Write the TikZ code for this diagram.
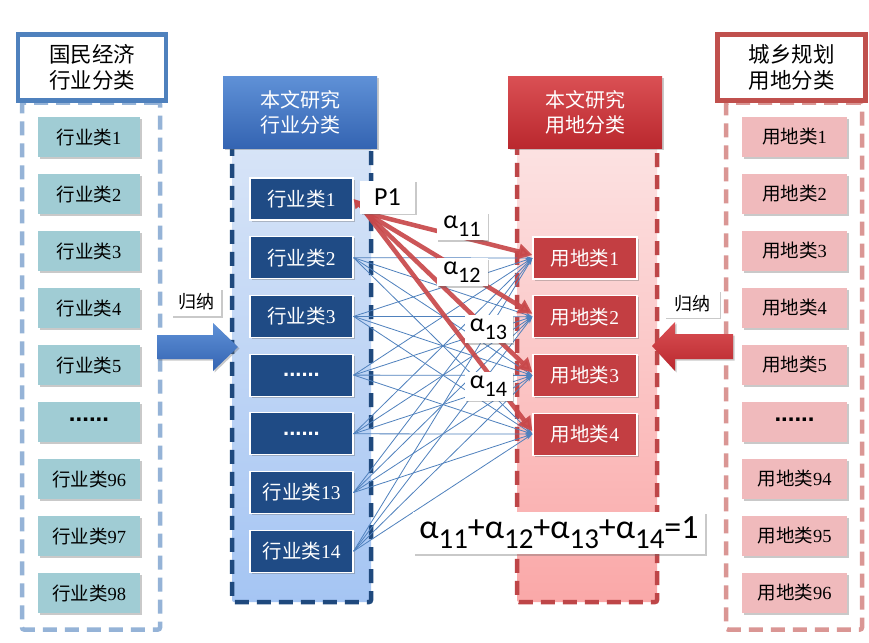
\documentclass[tikz,border=0pt]{standalone}
\usepackage{fontspec}
\setmainfont{Noto Sans CJK SC}
\newfontfamily\lat{Carlito}
\newfontfamily\sdig{Liberation Serif}
\newfontfamily\lsb{Liberation Sans Bold}
\usetikzlibrary{shadows,arrows.meta}
\newcommand\dg[1]{{\sdig #1}}
\newcommand\subs[1]{\raisebox{-0.3em}{\scalebox{0.85}{#1}}}
\newcommand\mdots{{\lsb\fontsize{22}{22}\selectfont ......}}
\newcommand\sdots{\raisebox{0.25em}{\lsb\fontsize{24}{24}\selectfont ......}}
\definecolor{hdblue}{RGB}{79,129,189}
\definecolor{ldash}{RGB}{149,179,215}
\definecolor{litemc}{RGB}{160,204,212}
\definecolor{mdash}{RGB}{31,73,125}
\definecolor{mitemc}{RGB}{31,75,133}
\definecolor{mhtop}{RGB}{95,145,215}
\definecolor{mhbot}{RGB}{52,100,178}
\definecolor{mctop}{RGB}{215,228,247}
\definecolor{mcbot}{RGB}{165,197,243}
\definecolor{hdred}{RGB}{192,80,77}
\definecolor{rdash}{RGB}{218,150,148}
\definecolor{ritemc}{RGB}{240,186,188}
\definecolor{ndash}{RGB}{190,70,72}
\definecolor{nitemc}{RGB}{195,62,66}
\definecolor{nhtop}{RGB}{218,80,84}
\definecolor{nhbot}{RGB}{186,40,46}
\definecolor{nctop}{RGB}{252,226,226}
\definecolor{ncbot}{RGB}{250,168,168}
\definecolor{lineblue}{RGB}{79,129,189}
\definecolor{linered}{RGB}{200,72,74}
\tikzset{
  shd/.style={drop shadow={shadow xshift=1.5pt,shadow yshift=-1.5pt,opacity=0.35,fill=black!60}},
  head/.style={line width=4.5pt, fill=white, minimum width=148pt, minimum height=66pt,
    align=center, inner sep=0pt, font=\fontsize{21.5}{26}\selectfont},
  shead/.style={shd, minimum width=154pt, minimum height=72pt, align=center, inner sep=0pt,
    text=white, font=\fontsize{20}{25}\selectfont},
  cont/.style={line width=4.5pt, dash pattern=on 14pt off 8pt, rounded corners=2pt},
  item/.style={shd, minimum width=102pt, minimum height=40pt, inner sep=0pt,
    font=\fontsize{18.5}{18.5}\selectfont},
  mitem/.style={item, fill=mitemc, draw=white, line width=1.2pt, text=white, minimum width=103pt, minimum height=42pt, font=\fontsize{19.5}{19.5}\selectfont},
  nitem/.style={item, fill=nitemc, draw=white, line width=1.2pt, text=white, minimum width=104pt, minimum height=42pt, font=\fontsize{19.5}{19.5}\selectfont},
  lbl/.style={shd, fill=white, inner sep=0pt},
  bline/.style={draw=lineblue, line width=0.8pt, -{Stealth[length=7pt,width=4pt]}},
  rline/.style={draw=linered, line width=4.5pt, opacity=0.92, -{Triangle[length=14pt,width=15pt]}},
}
\begin{document}
\begin{tikzpicture}[x=1pt,y=-1pt]
\path[use as bounding box, fill=white] (0,0) rectangle (869,642);
% containers
\node[cont, draw=ldash, minimum width=138pt, minimum height=527pt] (lc) at (91,366) {};
\node[cont, draw=rdash, minimum width=136pt, minimum height=527pt] (gc) at (794,366) {};
\node[cont, draw=mdash, top color=mctop, bottom color=mcbot, minimum width=139pt, minimum height=456pt] (mc) at (301.5,374) {};
\node[cont, draw=ndash, top color=nctop, bottom color=ncbot, minimum width=140pt, minimum height=456pt] (nc) at (587,374) {};
% headers
\node[head, draw=hdblue, shd] (lh) at (92,67.5) {国民经济\\行业分类};
\node[head, draw=hdred, shd] (gh) at (791.5,67.5) {城乡规划\\用地分类};
\node[shead, top color=mhtop, bottom color=mhbot] (mh) at (300,112) {本文研究\\行业分类};
\node[shead, top color=nhtop, bottom color=nhbot] (nh) at (585,112) {本文研究\\用地分类};
% side items
\foreach \t [count=\k] in {行业类\dg{1},行业类\dg{2},行业类\dg{3},行业类\dg{4},行业类\dg{5},\sdots,行业类\dg{96},行业类\dg{97},行业类\dg{98}}
  \node[item, fill=litemc] (l\k) at (89,{137+57*(\k-1)}) {\t};
\foreach \t [count=\k] in {用地类\dg{1},用地类\dg{2},用地类\dg{3},用地类\dg{4},用地类\dg{5},\sdots,用地类\dg{94},用地类\dg{95},用地类\dg{96}}
  \node[item, fill=ritemc, minimum width=105pt] (g\k) at (794.5,{137+57*(\k-1)}) {\t};
% middle items
\foreach \t [count=\k] in {行业类\dg{1},行业类\dg{2},行业类\dg{3},\mdots,\mdots,行业类\dg{13},行业类\dg{14}}
  \node[mitem] (m\k) at (301.5,{199+58.7*(\k-1)}) {\t};
\foreach \t [count=\k] in {用地类\dg{1},用地类\dg{2},用地类\dg{3},用地类\dg{4}}
  \node[nitem] (r\k) at (585,{258+58.7*(\k-1)}) {\t};
% thin blue connectors
\foreach \a in {2,3,4,5,6,7}
  \foreach \b in {1,2,3,4}
    \draw[bline] (m\a.east) -- (r\b.west);
% red connectors
\coordinate (p0) at (366,213);
\foreach \b in {1,2,3,4}
  \draw[rline] (p0) -- ([yshift=3pt]r\b.west);
\draw[draw=linered, line width=3pt, -{Triangle[length=9pt,width=10pt]}] (p0) -- (m1.east);
% labels
\node[lbl, minimum width=55pt, minimum height=33pt, font=\lat\fontsize{26}{26}\selectfont] (p1) at (387.5,197) {P1};
\node[lbl, minimum width=51pt, minimum height=28pt, font=\lat\fontsize{26}{26}\selectfont] (a11) at (462,226) {α\subs{11}};
\node[lbl, minimum width=51pt, minimum height=28pt, font=\lat\fontsize{26}{26}\selectfont] (a12) at (462,272) {α\subs{12}};
\node[lbl, minimum width=48pt, minimum height=28pt, font=\lat\fontsize{26}{26}\selectfont] (a13) at (488.5,329) {α\subs{13}};
\node[lbl, minimum width=48pt, minimum height=29pt, font=\lat\fontsize{26}{26}\selectfont] (a14) at (488.5,386) {α\subs{14}};
% induction arrows
\shade[top color=mhtop, bottom color=mhbot, drop shadow={shadow xshift=1.5pt,shadow yshift=-1.5pt,opacity=0.35,fill=black!60}]
  (157,335) -- (213,335) -- (213,323) -- (238,347) -- (213,371) -- (213,359) -- (157,359) -- cycle;
\shade[top color=nhtop, bottom color=nhbot, drop shadow={shadow xshift=1.5pt,shadow yshift=-1.5pt,opacity=0.35,fill=black!60}]
  (733,334) -- (675,334) -- (675,322) -- (652,346) -- (675,371) -- (675,359) -- (733,359) -- cycle;
\node[lbl, minimum width=50pt, minimum height=28pt, font=\fontsize{18}{18}\selectfont] (gn1) at (196,302) {归纳};
\node[lbl, minimum width=55pt, minimum height=27pt, font=\fontsize{18}{18}\selectfont] (gn2) at (692,304) {归纳};
% equation
\node[lbl, minimum width=292pt, minimum height=42pt, font=\lat\fontsize{34}{34}\selectfont] (eq) at (559,533)
  {α\subs{11}+α\subs{12}+α\subs{13}+α\subs{14}=1};
\end{tikzpicture}
\end{document}
